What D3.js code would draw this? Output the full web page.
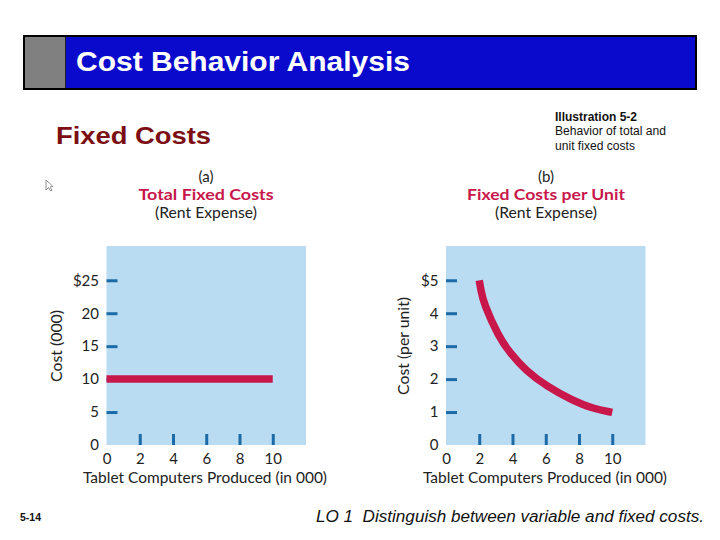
<!DOCTYPE html>
<html>
<head>
<meta charset="utf-8">
<script src="https://cdn.jsdelivr.net/npm/d3@7"></script>
<style>
  html, body { margin: 0; padding: 0; background: #fff; }
  svg { display: block; }
</style>
</head>
<body>
<svg id="chart" width="720" height="540"></svg>
<script>
// ---- data ----
const totalUnits = [0, 2, 4, 6, 8, 10];          // thousands of tablets
const totalCost  = [10, 10, 10, 10, 10, 10];     // $000
const unitUnits  = [2, 2.1, 2.27, 3.17, 3.87, 4.78, 6.08, 7.59, 8.8, 10];
const unitCost   = [5, 4.7, 4.29, 3.28, 2.78, 2.27, 1.77, 1.36, 1.11, 0.99];
const xTicks     = [0, 2, 4, 6, 8, 10];
const xTickLabels = ["0", "2", "4", "6", "8", "10"];
const totalYTicks = [0, 5, 10, 15, 20, 25];
const totalYTickLabels = ["0", "5", "10", "15", "20", "$25"];
const unitYTicks  = [0, 1, 2, 3, 4, 5];
const unitYTickLabels = ["0", "1", "2", "3", "4", "$5"];

const svg = d3.select("#chart");
const ARIAL = "'Liberation Sans', Arial, sans-serif";
const GILL = "Lato, 'Open Sans', sans-serif";
const RED = "#c8174b";
const TICK = "#1c6aa6";
const PLOTBG = "#badcf3";

// ---- slide header ----
svg.append("rect").attr("x", 24).attr("y", 36).attr("width", 672).attr("height", 53)
  .attr("fill", "#0a0acc").attr("stroke", "#000").attr("stroke-width", 2);
svg.append("rect").attr("x", 25).attr("y", 37).attr("width", 40).attr("height", 51)
  .attr("fill", "#808080");
svg.append("line").attr("x1", 65.5).attr("x2", 65.5).attr("y1", 37).attr("y2", 88)
  .attr("stroke", "#222").attr("stroke-width", 1);
svg.append("text").attr("x", 76).attr("y", 71)
  .attr("font-family", ARIAL).attr("font-weight", "bold").attr("font-size", 27)
  .attr("fill", "#fff").attr("textLength", 334).attr("lengthAdjust", "spacingAndGlyphs")
  .text("Cost Behavior Analysis");

svg.append("text").attr("x", 56).attr("y", 143.5)
  .attr("font-family", ARIAL).attr("font-weight", "bold").attr("font-size", 23.5)
  .attr("fill", "#7b0f13").attr("textLength", 155).attr("lengthAdjust", "spacingAndGlyphs")
  .text("Fixed Costs");

const ill = svg.append("g").attr("font-family", ARIAL).attr("fill", "#111");
ill.append("text").attr("x", 555).attr("y", 121).attr("font-size", 12).attr("font-weight", "bold")
  .attr("textLength", 82).attr("lengthAdjust", "spacingAndGlyphs").text("Illustration 5-2");
ill.append("text").attr("x", 555).attr("y", 135).attr("font-size", 12)
  .attr("textLength", 111).attr("lengthAdjust", "spacingAndGlyphs").text("Behavior of total and");
ill.append("text").attr("x", 555).attr("y", 150).attr("font-size", 12)
  .attr("textLength", 80).attr("lengthAdjust", "spacingAndGlyphs").text("unit fixed costs");

// small cursor arrow
svg.append("path").attr("d", "M46,180 L46,190 L48.5,187.5 L50.5,191 L52,190.3 L50,187 L53,186.5 Z")
  .attr("fill", "#fff").attr("stroke", "#777").attr("stroke-width", 0.8);

// footer
svg.append("text").attr("x", 20).attr("y", 521).attr("font-family", ARIAL)
  .attr("font-weight", "bold").attr("font-size", 11).attr("fill", "#111")
  .attr("textLength", 21).attr("lengthAdjust", "spacingAndGlyphs").text("5-14");
svg.append("text").attr("x", 316).attr("y", 522).attr("font-family", ARIAL)
  .attr("font-style", "italic").attr("font-size", 16).attr("fill", "#111")
  .attr("textLength", 388).attr("lengthAdjust", "spacingAndGlyphs")
  .attr("xml:space", "preserve")
  .text("LO 1  Distinguish between variable and fixed costs.");

// ---- chart panels ----
function panel(cfg) {
  const g = svg.append("g");
  const x = d3.scaleLinear().domain([0, 12]).range([cfg.left, cfg.left + 199.5]);
  const y = d3.scaleLinear().domain(cfg.yDomain).range([445, 246]);

  g.append("rect").attr("x", x(0)).attr("y", y(cfg.yDomain[1]))
    .attr("width", x(12) - x(0)).attr("height", y(0) - y(cfg.yDomain[1]))
    .attr("fill", PLOTBG);

  // titles
  const cx = cfg.titleX;
  g.append("text").attr("x", cx).attr("y", 182).attr("text-anchor", "middle")
    .attr("font-family", GILL).attr("font-size", 15).attr("fill", "#222").text(cfg.letter);
  g.append("text").attr("x", cx).attr("y", 199.5).attr("text-anchor", "middle")
    .attr("font-family", GILL).attr("font-weight", "bold").attr("font-size", 15.5)
    .attr("fill", RED).attr("textLength", cfg.titleLen).attr("lengthAdjust", "spacingAndGlyphs")
    .text(cfg.title);
  g.append("text").attr("x", cx).attr("y", 218).attr("text-anchor", "middle")
    .attr("font-family", GILL).attr("font-size", 15).attr("fill", "#222")
    .attr("textLength", 102).attr("lengthAdjust", "spacingAndGlyphs").text("(Rent Expense)");

  // y axis
  const yAxis = d3.axisLeft(y).tickValues(cfg.yTicks)
    .tickFormat((d, i) => cfg.yLabels[i]).tickSizeInner(-11).tickSizeOuter(0).tickPadding(7.5);
  const ya = g.append("g").attr("transform", `translate(${x(0)},0)`).call(yAxis);
  ya.select(".domain").remove();
  ya.selectAll(".tick line").attr("stroke", TICK).attr("stroke-width", 3)
    .attr("display", d => d === 0 ? "none" : null);
  ya.selectAll(".tick text").attr("font-family", GILL).attr("font-size", 15).attr("fill", "#222");

  // x axis
  const xAxis = d3.axisBottom(x).tickValues(xTicks)
    .tickFormat((d, i) => xTickLabels[i]).tickSizeInner(-11).tickSizeOuter(0).tickPadding(8);
  const xa = g.append("g").attr("transform", `translate(0,${y(0)})`).call(xAxis);
  xa.select(".domain").remove();
  xa.selectAll(".tick line").attr("stroke", TICK).attr("stroke-width", 3)
    .attr("display", d => d === 0 ? "none" : null);
  xa.selectAll(".tick text").attr("font-family", GILL).attr("font-size", 15).attr("fill", "#222");

  // axis titles
  g.append("text").attr("x", cfg.xTitleX).attr("y", 483).attr("text-anchor", "middle")
    .attr("font-family", GILL).attr("font-size", 15).attr("fill", "#222")
    .attr("textLength", 244).attr("lengthAdjust", "spacingAndGlyphs")
    .text("Tablet Computers Produced (in 000)");
  g.append("text").attr("transform", `translate(${cfg.yTitleX},346) rotate(-90)`)
    .attr("text-anchor", "middle").attr("font-family", GILL).attr("font-size", 15)
    .attr("fill", "#222").attr("textLength", cfg.yTitleLen).attr("lengthAdjust", "spacingAndGlyphs")
    .text(cfg.yTitle);

  // data line
  const line = d3.line().x(d => x(d[0])).y(d => y(d[1])).curve(d3.curveBasis);
  g.append("path").datum(cfg.xs.map((v, i) => [v, cfg.ys[i]]))
    .attr("d", line).attr("fill", "none").attr("stroke", RED)
    .attr("stroke-width", 7.5).attr("stroke-linecap", "butt");
}

panel({
  left: 106.5, yDomain: [0, 30.2], yTicks: totalYTicks, yLabels: totalYTickLabels,
  letter: "(a)", title: "Total Fixed Costs", titleLen: 135, titleX: 206,
  xTitleX: 205, yTitleX: 61.5, yTitle: "Cost (000)", yTitleLen: 72,
  xs: totalUnits, ys: totalCost
});
panel({
  left: 446, yDomain: [0, 6.04], yTicks: unitYTicks, yLabels: unitYTickLabels,
  letter: "(b)", title: "Fixed Costs per Unit", titleLen: 158, titleX: 546,
  xTitleX: 545, yTitleX: 408.5, yTitle: "Cost (per unit)", yTitleLen: 98,
  xs: unitUnits, ys: unitCost
});
</script>
</body>
</html>
